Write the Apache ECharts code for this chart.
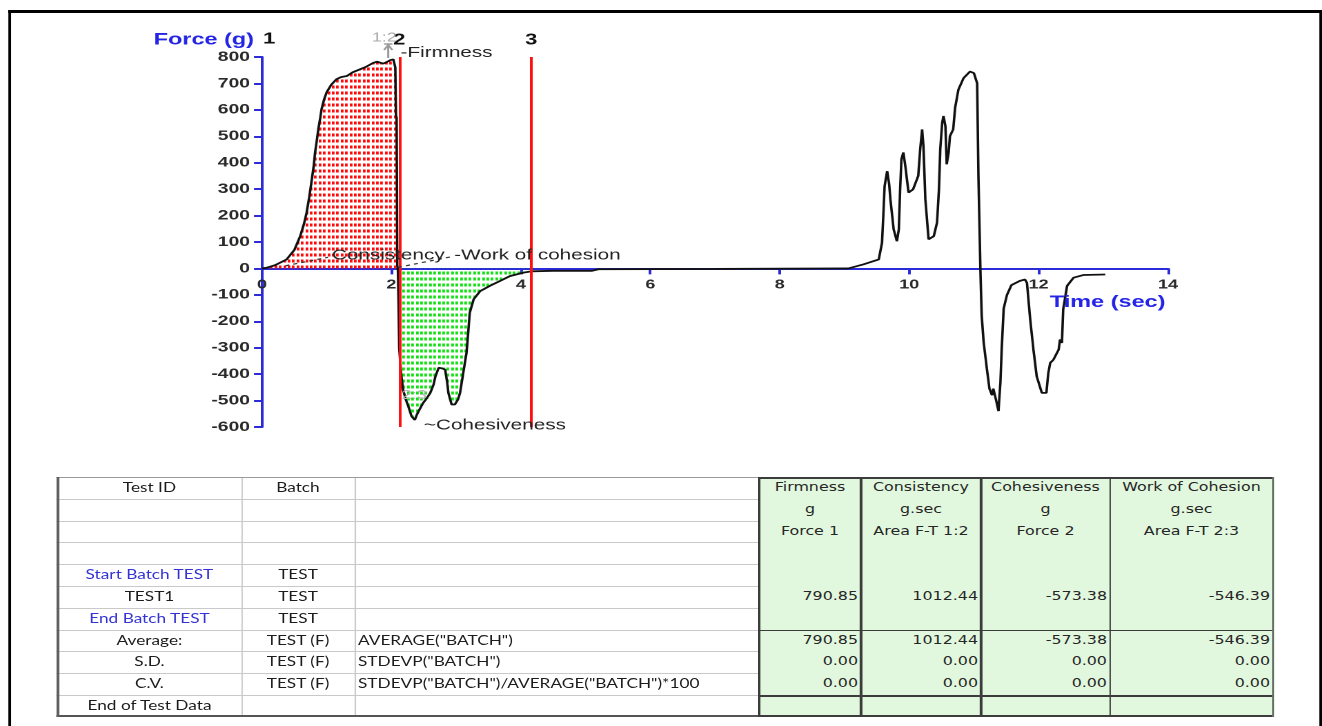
<!DOCTYPE html>
<html>
<head>
<meta charset="utf-8">
<title>Force–time texture profile</title>
<script src="https://cdn.jsdelivr.net/npm/echarts@6.0.0/dist/echarts.min.js"></script>
<style>
  html, body { margin: 0; padding: 0; background: #fff; overflow: hidden; }
  #page { position: absolute; left: 0; top: 0; height: 726px; transform-origin: 0 0; }
  #chart { position: absolute; left: 0; top: 0; height: 726px; }
  #frame { position: absolute; box-sizing: border-box; border-style: solid; border-color: #000; }
  #table { position: absolute; left: 0; top: 0; }
  .ln { position: absolute; }
  .tx { position: absolute; white-space: nowrap; box-sizing: border-box; overflow: visible; }
</style>
</head>
<body>
<div id="page">
  <div id="frame"></div>
  <div id="chart"></div>
  <div id="table"></div>
</div>
<script>
// The sheet is laid out in narrow units and widened as a whole.
const K = 1.38;
const PAGE_W = 1322 / K;
const lx = x => x / K;

// ---- Force–time trace (sec, g) ----
const timeSec = [
  0, 0.06, 0.2, 0.38, 0.5, 0.59, 0.65, 0.69, 0.73, 0.77, 0.8, 0.82, 0.85, 0.87, 0.9, 0.92, 0.96, 1.0,
  1.07, 1.15, 1.22, 1.31, 1.4, 1.51, 1.6, 1.72, 1.78, 1.82, 1.87, 1.92, 1.98, 2.03, 2.05, 2.06, 2.07,
  2.08, 2.09, 2.1, 2.11, 2.12, 2.15, 2.18, 2.22, 2.26, 2.31, 2.34, 2.36, 2.39, 2.42, 2.49, 2.55, 2.6,
  2.65, 2.68, 2.73, 2.78, 2.83, 2.86, 2.88, 2.93, 2.98, 3.03, 3.06, 3.11, 3.16, 3.19, 3.21, 3.27, 3.37,
  3.52, 3.68, 3.83, 4.04, 4.16, 4.5, 5.1, 5.2, 7.0, 9.06, 9.29, 9.53, 9.58, 9.6, 9.62, 9.66, 9.69,
  9.71, 9.76, 9.81, 9.84, 9.86, 9.88, 9.91, 9.94, 9.99, 10.06, 10.14, 10.17, 10.2, 10.22, 10.25, 10.3,
  10.38, 10.43, 10.46, 10.48, 10.51, 10.53, 10.56, 10.58, 10.61, 10.63, 10.68, 10.71, 10.76, 10.84,
  10.94, 11.0, 11.05, 11.07, 11.1, 11.12, 11.15, 11.2, 11.24, 11.28, 11.3, 11.35, 11.38, 11.41, 11.43,
  11.46, 11.51, 11.58, 11.71, 11.79, 11.82, 11.87, 11.92, 11.97, 12.05, 12.12, 12.15, 12.18, 12.23,
  12.31, 12.33, 12.36, 12.38, 12.44, 12.54, 12.69, 13.03
];
const forceG = [
  0, 2, 12, 34, 70, 122, 170, 212, 270, 337, 390, 439, 490, 526, 570, 602, 640, 667,
  695, 716, 724, 728, 742, 753, 762, 778, 782, 784, 775, 780, 788, 790.85, 789, 760, 580,
  570, 10, -5, -130, -300, -400, -459, -495, -521, -559, -566, -573.38, -555, -540, -509, -490, -471,
  -440, -408, -376, -378, -383, -430, -471, -515, -515, -495, -471, -395, -319, -231, -168, -117, -86,
  -66, -47, -29, -16, -11, -9, -9, -3, -2, 0, 15, 34, 97, 198, 311, 368, 320,
  261, 148, 103, 148, 299, 413, 439, 388, 287, 299, 350, 451, 526, 463, 261, 110,
  122, 173, 299, 451, 551, 577, 538, 394, 439, 501, 526, 608, 676, 720,
  745, 739, 701, 350, 0, -177, -278, -379, -455, -480, -455, -506, -540, -430, -304,
  -152, -101, -63, -47, -42, -55, -193, -307, -408, -471, -471, -395, -357, -345,
  -307, -269, -282, -155, -66, -35, -25, -23
];

// Cursor markers on the trace
const markerTimes = [0, 2.12, 4.16];
const markerLabels = ['1', '2', '3'];
const firmnessEnd = 2.07;   // end of the compression (positive) phase

// Axis ranges and tick steps
const timeRange = [0, 14], timeStep = 2;
const forceRange = [-600, 800], forceStep = 100;

// ---- Results sheet ----
const testIdCol = ['Test ID', '', '', '', 'Start Batch TEST', 'TEST1', 'End Batch TEST', 'Average:', 'S.D.', 'C.V.', 'End of Test Data'];
const batchCol = ['Batch', '', '', '', 'TEST', 'TEST', 'TEST', 'TEST (F)', 'TEST (F)', 'TEST (F)', ''];
const formulaCol = ['', '', '', '', '', '', '', 'AVERAGE("BATCH")', 'STDEVP("BATCH")', 'STDEVP("BATCH")/AVERAGE("BATCH")*100', ''];
const batchMarkerRows = [4, 6];
const measureNames = ['Firmness', 'Consistency', 'Cohesiveness', 'Work of Cohesion'];
const measureUnits = ['g', 'g.sec', 'g', 'g.sec'];
const measureSources = ['Force 1', 'Area F-T 1:2', 'Force 2', 'Area F-T 2:3'];
const test1Values = [790.85, 1012.44, -573.38, -546.39];
const averageValues = [790.85, 1012.44, -573.38, -546.39];
const sdValues = [0.00, 0.00, 0.00, 0.00];
const cvValues = [0.00, 0.00, 0.00, 0.00];

// ---- page geometry ----
const page = document.getElementById('page');
page.style.width = PAGE_W + 'px';
page.style.transform = 'scaleX(' + K + ')';
document.getElementById('chart').style.width = PAGE_W + 'px';
const frame = document.getElementById('frame');
Object.assign(frame.style, {
  left: lx(8) + 'px', top: '10px', width: lx(1314) + 'px', height: '740px',
  borderWidth: '3px ' + lx(3) + 'px 0 ' + lx(3) + 'px'
});

// ---- chart ----
const AXIS_BLUE = '#2b2bd8';
const TITLE_BLUE = '#2424e6';
const FONT = '"Liberation Sans", Arial, sans-serif';
const GRID = { left: lx(262), right: lx(1322 - 1168), top: 57, bottom: 299 };
const plotHeight = 726 - GRID.top - GRID.bottom;
// the time axis runs along force = 0
const zeroOffset = -plotHeight * (0 - forceRange[0]) / (forceRange[1] - forceRange[0]);

function dotPattern(color) {
  const c = document.createElement('canvas');
  c.width = 32; c.height = 12;
  const g = c.getContext('2d');
  g.fillStyle = color;
  [0, 6.4, 12.8, 19.2, 25.6].forEach(x => g.fillRect(Math.round(x) + 1, 3, 3.8, 6));
  return { image: c, repeat: 'repeat', scaleX: 0.5, scaleY: 0.5 };
}

const trace = timeSec.map((t, i) => [t, forceG[i]]);
const firmPhase = trace.filter(p => p[0] <= firmnessEnd);
const cohesionPhase = trace.filter(p => p[0] >= markerTimes[1] && p[0] <= markerTimes[2]);

const chart = echarts.init(document.getElementById('chart'), null, { devicePixelRatio: 2 });

chart.setOption({
  animation: false,
  textStyle: { fontFamily: FONT },
  grid: Object.assign({ containLabel: false }, GRID),
  xAxis: {
    type: 'value', min: timeRange[0], max: timeRange[1], interval: timeStep,
    offset: zeroOffset,
    axisLine: { show: true, onZero: false, lineStyle: { color: AXIS_BLUE, width: 2 } },
    axisTick: { show: true, length: 6, lineStyle: { color: AXIS_BLUE, width: 2 } },
    axisLabel: { color: '#2a2a2a', fontWeight: 'bold', fontSize: 13, margin: 10 },
    splitLine: { show: false }
  },
  yAxis: {
    type: 'value', min: forceRange[0], max: forceRange[1], interval: forceStep,
    axisLine: { show: true, onZero: false, lineStyle: { color: AXIS_BLUE, width: 2 } },
    axisTick: { show: true, length: lx(8), lineStyle: { color: AXIS_BLUE, width: 2 } },
    axisLabel: { color: '#2a2a2a', fontWeight: 'bold', fontSize: 14, margin: lx(12) },
    splitLine: { show: false }
  },
  series: [
    {
      name: 'Consistency area', type: 'line', data: firmPhase, showSymbol: false, silent: true,
      lineStyle: { width: 0 }, areaStyle: { color: dotPattern('#ff0a0a'), opacity: 1 }, z: 1
    },
    {
      name: 'Work of cohesion area', type: 'line', data: cohesionPhase, showSymbol: false, silent: true,
      lineStyle: { width: 0 }, areaStyle: { color: dotPattern('#10e010'), opacity: 1 }, z: 1
    },
    {
      name: 'Markers', type: 'line', data: [], z: 2,
      markLine: {
        silent: true, symbol: 'none', animation: false,
        lineStyle: { color: '#ff1010', width: 2, type: 'solid' },
        label: { show: true, position: 'end', formatter: '{b}', color: '#111', fontWeight: 'bold', fontSize: 16, distance: 9 },
        data: markerTimes.slice(1).map((t, i) => ({ xAxis: t, name: markerLabels[i + 1] }))
      }
    },
    {
      name: 'Force', type: 'line', data: trace, showSymbol: false,
      lineStyle: { color: '#111', width: 1.8 }, z: 3
    }
  ]
});

// Annotations anchored to data positions
const P = (t, v) => chart.convertToPixel({ gridIndex: 0 }, [t, v]);
function label(text, pos, opts) {
  return {
    type: 'text', x: pos[0], y: pos[1], silent: true, z: 10,
    style: Object.assign({
      text: text, fill: '#222', font: '15px ' + FONT,
      align: 'left', textAlign: 'left', verticalAlign: 'middle', textVerticalAlign: 'middle'
    }, opts || {})
  };
}
const axisTop = P(0, forceRange[1]);
const peakX = P(1.95, 790)[0];
const leader = (a, b) => ({
  type: 'line', silent: true, z: 9,
  shape: { x1: a[0], y1: a[1], x2: b[0], y2: b[1] },
  style: { stroke: '#333', lineWidth: 1.2, lineDash: [3, 3] }
});

chart.setOption({
  graphic: [
    label('Force (g)', [axisTop[0] - lx(8), 40], { fill: TITLE_BLUE, font: 'bold 17px ' + FONT, align: 'right', textAlign: 'right' }),
    label(markerLabels[0], [axisTop[0] + lx(1), 39], { fill: '#111', font: 'bold 16px ' + FONT }),
    label('1:2', [P(1.89, 0)[0], 38], { fill: '#a8a8a8', font: '13px ' + FONT, align: 'center', textAlign: 'center' }),
    {
      type: 'polyline', silent: true, z: 9,
      shape: { points: [[peakX, 58], [peakX, 44]] },
      style: { stroke: '#9a9a9a', lineWidth: 1.5, fill: null }
    },
    {
      type: 'polyline', silent: true, z: 9,
      shape: { points: [[peakX - 3, 50], [peakX, 45], [peakX + 3, 50]] },
      style: { stroke: '#9a9a9a', lineWidth: 1.5, fill: null }
    },
    {
      type: 'line', silent: true, z: 9,
      shape: { x1: peakX - 3, y1: 44, x2: peakX + 3, y2: 44 },
      style: { stroke: '#9a9a9a', lineWidth: 1.5 }
    },
    label('-Firmness', [P(2.14, 0)[0], 53]),
    leader(P(0.36, 10), P(1.02, 42)),
    label('Consistency', P(1.08, 49)),
    leader(P(2.1, 4), P(2.94, 45)),
    label('-Work of cohesion', P(2.97, 49)),
    label('~Cohesiveness', P(2.5, -594)),
    label('2:3', P(2.16, -480), { fill: '#b4b4b4', font: '13px ' + FONT }),
    label('Time (sec)', P(13.96, -129), { fill: TITLE_BLUE, font: 'bold 17px ' + FONT, align: 'right', textAlign: 'right' })
  ]
});

// ---- results sheet ----
const T = { x: [57, 242, 354, 759, 861, 981, 1110, 1273], top: 477, rowH: 21.8, rows: 11 };
const tbl = document.getElementById('table');
const rowY = r => T.top + r * T.rowH;
const bottomY = rowY(T.rows);
const TEXT_SHIFT = 3;

function rect(x, y, w, h, bg) {
  const d = document.createElement('div');
  d.className = 'ln';
  Object.assign(d.style, { left: lx(x) + 'px', top: y + 'px', width: lx(w) + 'px', height: h + 'px', background: bg });
  tbl.appendChild(d);
}
function cell(str, c0, c1, row, align, css) {
  const d = document.createElement('div');
  d.className = 'tx';
  d.textContent = str;
  Object.assign(d.style, {
    left: lx(c0) + 'px', width: lx(c1 - c0) + 'px',
    top: (rowY(row) + TEXT_SHIFT) + 'px', height: T.rowH + 'px', lineHeight: T.rowH + 'px',
    textAlign: align
  }, css || {});
  tbl.appendChild(d);
}

// left block: identifiers and formulas
const LEFT_GRID = '#c9c9c9';
for (let r = 1; r < T.rows; r++) rect(T.x[0], rowY(r), T.x[3] - T.x[0], 1, LEFT_GRID);
[T.x[1], T.x[2]].forEach(x => rect(x, T.top, 1, bottomY - T.top, LEFT_GRID));
rect(T.x[0], T.top, T.x[3] - T.x[0], 1, '#9a9a9a');
rect(T.x[0], bottomY - 1.5, T.x[3] - T.x[0], 1.5, '#555');
rect(T.x[0], T.top, 2, bottomY - T.top, '#606060');

const leftFont = { font: '12.5px Lato, "Open Sans", sans-serif', color: '#1c1c1c' };
testIdCol.forEach((s, r) => {
  if (!s) return;
  const css = Object.assign({}, leftFont);
  if (batchMarkerRows.includes(r)) css.color = '#3434d2';
  cell(s, T.x[0], T.x[1], r, 'center', css);
});
batchCol.forEach((s, r) => { if (s) cell(s, T.x[1], T.x[2], r, 'center', leftFont); });
formulaCol.forEach((s, r) => { if (s) cell(s, T.x[2], T.x[3], r, 'left', Object.assign({ paddingLeft: lx(4) + 'px' }, leftFont)); });

// right block: measured parameters
const GREEN_BG = '#e2f8de';
const DARK = '#3c3c3c';
rect(T.x[3], T.top, T.x[7] - T.x[3], bottomY - T.top, GREEN_BG);
rect(T.x[3], T.top, T.x[7] - T.x[3], 1.5, DARK);
rect(T.x[3], bottomY - 1.5, T.x[7] - T.x[3], 1.5, DARK);
rect(T.x[3], rowY(7), T.x[7] - T.x[3], 1.5, DARK);
rect(T.x[3], rowY(10), T.x[7] - T.x[3], 1.5, DARK);
T.x.slice(3).forEach(x => rect(x - 1, T.top, 2, bottomY - T.top, DARK));

const rightFont = { font: '11.5px "DejaVu Sans", Verdana, sans-serif', color: '#262626' };
const numCss = Object.assign({ paddingRight: lx(3) + 'px' }, rightFont);
measureNames.forEach((name, i) => {
  const c0 = T.x[3 + i], c1 = T.x[4 + i];
  cell(name, c0, c1, 0, 'center', rightFont);
  cell(measureUnits[i], c0, c1, 1, 'center', rightFont);
  cell(measureSources[i], c0, c1, 2, 'center', rightFont);
  cell(test1Values[i].toFixed(2), c0, c1, 5, 'right', numCss);
  cell(averageValues[i].toFixed(2), c0, c1, 7, 'right', numCss);
  cell(sdValues[i].toFixed(2), c0, c1, 8, 'right', numCss);
  cell(cvValues[i].toFixed(2), c0, c1, 9, 'right', numCss);
});
</script>
</body>
</html>
